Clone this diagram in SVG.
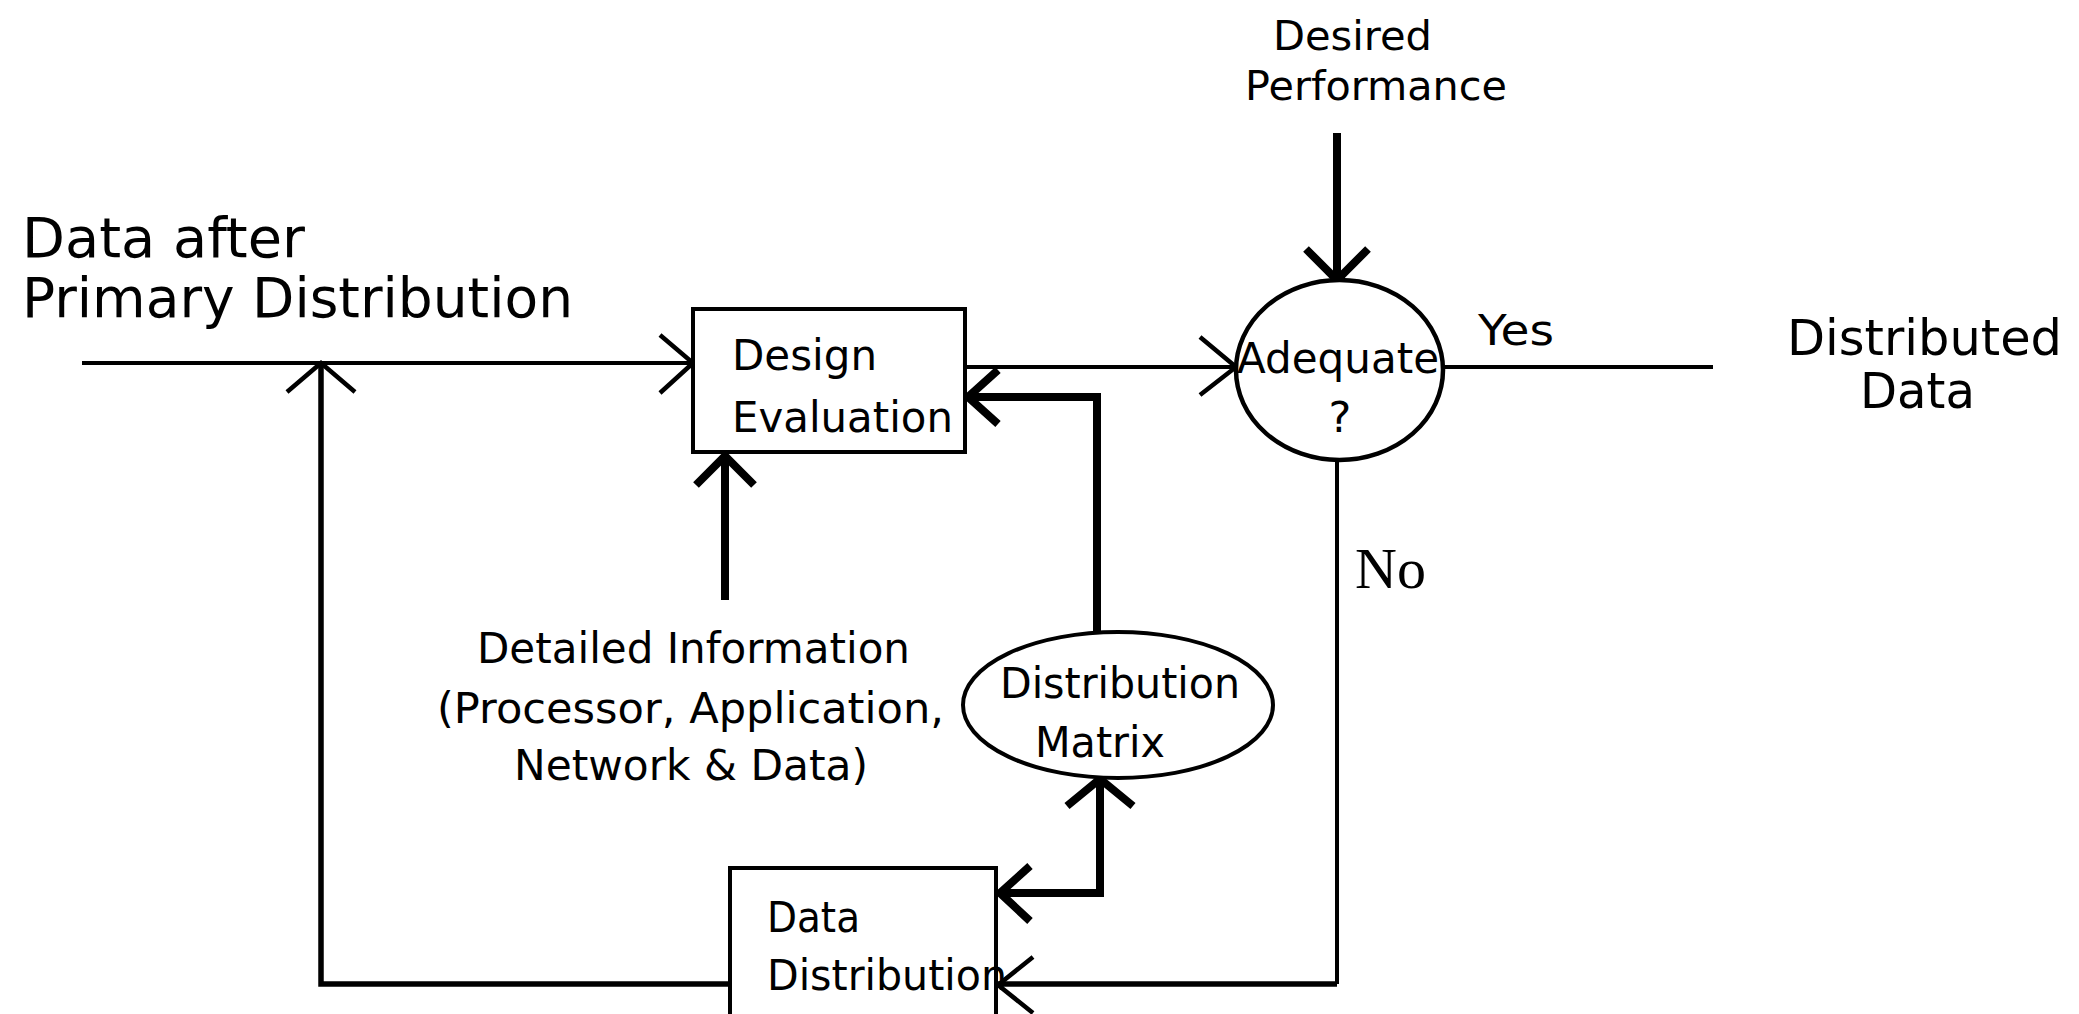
<svg xmlns="http://www.w3.org/2000/svg" width="2079" height="1014" viewBox="0 0 2079 1014">
<style>
  .t { font-family: "DejaVu Sans", "Liberation Sans", sans-serif; fill: #000; }
  .n { font-size: 43px; }
  .big { font-size: 56px; }
  .out { font-size: 50px; }
  .sm { font-size: 40px; }
  .serif { font-family: "Liberation Serif", serif; font-size: 58px; fill: #000; }
  .box { fill: #fff; stroke: #000; stroke-width: 4; }
  .circ { fill: #fff; stroke: #000; stroke-width: 4.5; }
  .thin { fill: none; stroke: #000; stroke-width: 4; }
  .mid { fill: none; stroke: #000; stroke-width: 5.5; }
  .thick { fill: none; stroke: #000; stroke-width: 8; }
  .head { fill: none; stroke: #000; stroke-width: 4.5; stroke-linejoin: miter; }
  .headT { fill: none; stroke: #000; stroke-width: 8; stroke-linejoin: miter; }
</style>
<rect width="2079" height="1014" fill="#fff"/>

<g id="connectors">
  <line class="thin" x1="82" y1="363" x2="693" y2="363"/>
  <polyline class="head" points="660,335 693,363 660,393"/>
  <polyline class="mid" points="730,984 321,984 321,363"/>
  <polyline class="head" points="287,392 321,363 355,392"/>
  <line class="thin" x1="965" y1="367" x2="1236" y2="367"/>
  <polyline class="head" points="1200,337 1236,367 1200,395"/>
  <line class="thin" x1="1443" y1="367" x2="1713" y2="367"/>
  <line class="thick" x1="1337" y1="133" x2="1337" y2="278"/>
  <polyline class="headT" points="1306,249 1337,280 1368,249"/>
  <line class="thick" x1="725" y1="600" x2="725" y2="458"/>
  <polyline class="headT" points="696,485 725,456 754,485"/>
  <polyline class="thick" points="1097,632 1097,397 968,397"/>
  <polyline class="headT" points="998,370 968,397 998,424"/>
  <polyline class="thin" points="1337,460 1337,984"/>
  <polyline class="mid" points="1337,984 998,984"/>
  <polyline class="head" points="1033,957 998,985 1033,1013"/>
  <polyline class="thick" points="1100,781 1100,893 1001,893"/>
  <polyline class="headT" points="1067,806 1100,779 1133,806"/>
  <polyline class="headT" points="1030,866 1000,893 1030,921"/>
</g>

<g id="label-input">
  <text class="t big" x="22" y="257" textLength="283" lengthAdjust="spacingAndGlyphs">Data after</text>
  <text class="t big" x="22" y="317" textLength="551" lengthAdjust="spacingAndGlyphs">Primary Distribution</text>
</g>

<g id="node-design-evaluation">
  <rect class="box" x="693" y="309" width="272" height="143"/>
  <text class="t n" x="732" y="370" textLength="145" lengthAdjust="spacingAndGlyphs">Design</text>
  <text class="t n" x="732" y="432" textLength="221" lengthAdjust="spacingAndGlyphs">Evaluation</text>
</g>

<g id="label-desired-performance">
  <text class="t sm" x="1273" y="50" textLength="159" lengthAdjust="spacingAndGlyphs">Desired</text>
  <text class="t sm" x="1245" y="100" textLength="262" lengthAdjust="spacingAndGlyphs">Performance</text>
</g>

<g id="node-adequate">
  <ellipse class="circ" cx="1339.5" cy="370" rx="103.5" ry="90"/>
  <text class="t n" x="1237" y="373" textLength="202" lengthAdjust="spacingAndGlyphs">Adequate</text>
  <text class="t n" x="1340" y="432" text-anchor="middle">?</text>
</g>

<g id="label-yes">
  <text class="t n" x="1478" y="345" textLength="76" lengthAdjust="spacingAndGlyphs">Yes</text>
</g>

<g id="label-output">
  <text class="t out" x="1787" y="355" textLength="275" lengthAdjust="spacingAndGlyphs">Distributed</text>
  <text class="t out" x="1860" y="408" textLength="115" lengthAdjust="spacingAndGlyphs">Data</text>
</g>

<g id="label-no">
  <text class="serif" x="1355" y="588">No</text>
</g>

<g id="label-detailed-information">
  <text class="t n" x="477" y="663" textLength="433" lengthAdjust="spacingAndGlyphs">Detailed Information</text>
  <text class="t n" x="437" y="723" textLength="507" lengthAdjust="spacingAndGlyphs">(Processor, Application,</text>
  <text class="t n" x="514" y="780" textLength="354" lengthAdjust="spacingAndGlyphs">Network &amp; Data)</text>
</g>

<g id="node-distribution-matrix">
  <ellipse class="box" cx="1118" cy="705" rx="155" ry="73"/>
  <text class="t n" x="1000" y="698" textLength="240" lengthAdjust="spacingAndGlyphs">Distribution</text>
  <text class="t n" x="1035" y="757" textLength="130" lengthAdjust="spacingAndGlyphs">Matrix</text>
</g>

<g id="node-data-distribution">
  <rect class="box" x="730" y="868" width="266" height="170"/>
  <text class="t n" x="767" y="932" textLength="93" lengthAdjust="spacingAndGlyphs">Data</text>
  <text class="t n" x="767" y="990" textLength="240" lengthAdjust="spacingAndGlyphs">Distribution</text>
</g>
</svg>
